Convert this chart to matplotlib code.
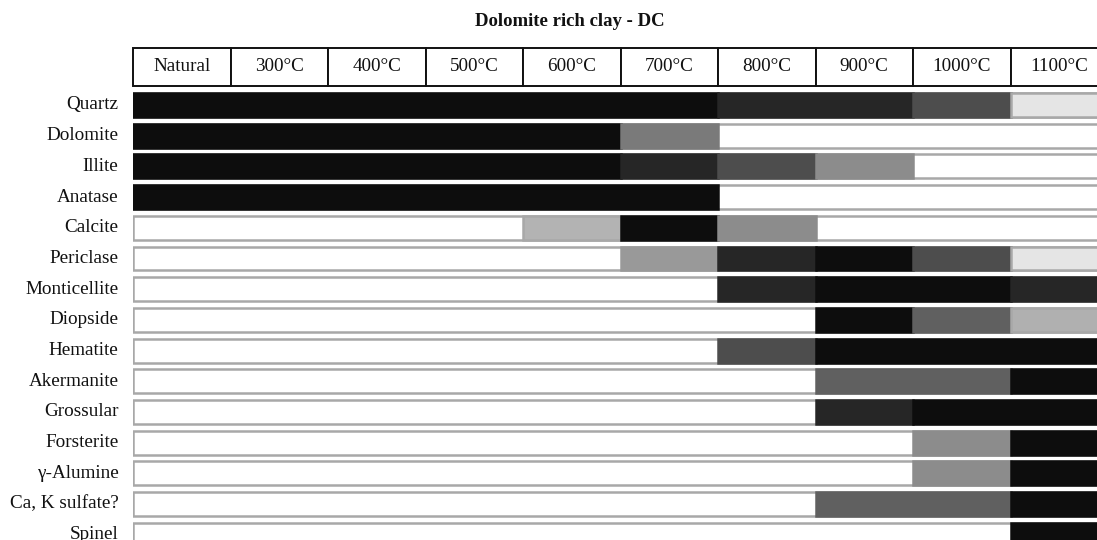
#!/usr/bin/env python3
# coding: utf-8

import matplotlib.pyplot as plt
from matplotlib.patches import Rectangle

plt.rcParams['font.family'] = ['Liberation Serif', 'DejaVu Serif']

title = 'Dolomite rich clay - DC'

columns = ['Natural', '300°C', '400°C', '500°C', '600°C',
           '700°C', '800°C', '900°C', '1000°C', '1100°C']

minerals = ['Quartz', 'Dolomite', 'Illite', 'Anatase', 'Calcite',
            'Periclase', 'Monticellite', 'Diopside', 'Hematite',
            'Akermanite', 'Grossular', 'Forsterite', 'γ-Alumine',
            'Ca, K sulfate?', 'Spinel']

# grey level (0 = black, 255 = white) for each mineral at each temperature
quartz       = [13, 13, 13, 13, 13, 13, 38, 38, 77, 229]
dolomite     = [13, 13, 13, 13, 13, 122, 255, 255, 255, 255]
illite       = [13, 13, 13, 13, 13, 38, 77, 140, 255, 255]
anatase      = [13, 13, 13, 13, 13, 13, 255, 255, 255, 255]
calcite      = [255, 255, 255, 255, 179, 13, 140, 255, 255, 255]
periclase    = [255, 255, 255, 255, 255, 153, 38, 13, 77, 229]
monticellite = [255, 255, 255, 255, 255, 255, 38, 13, 13, 38]
diopside     = [255, 255, 255, 255, 255, 255, 255, 13, 96, 176]
hematite     = [255, 255, 255, 255, 255, 255, 77, 13, 13, 13]
akermanite   = [255, 255, 255, 255, 255, 255, 255, 96, 96, 13]
grossular    = [255, 255, 255, 255, 255, 255, 255, 38, 13, 13]
forsterite   = [255, 255, 255, 255, 255, 255, 255, 255, 140, 13]
alumine      = [255, 255, 255, 255, 255, 255, 255, 255, 140, 13]
sulfate      = [255, 255, 255, 255, 255, 255, 255, 96, 96, 13]
spinel       = [255, 255, 255, 255, 255, 255, 255, 255, 255, 13]

shades = [quartz, dolomite, illite, anatase, calcite, periclase,
          monticellite, diopside, hematite, akermanite, grossular,
          forsterite, alumine, sulfate, spinel]

EDGE = 168
BAR_H = 0.78


def grey(v):
    return '#{0:02x}{0:02x}{0:02x}'.format(v)


def runs(row):
    # merge neighbouring cells that share the same shade
    out = []
    start = 0
    for i in range(1, len(row) + 1):
        if i == len(row) or row[i] != row[start]:
            out.append((start, i - start, row[start]))
            start = i
    return out


def main():
    fig = plt.figure(figsize=(10.97, 5.40), dpi=100)
    # axes runs a little past the right edge so the last column is cut off
    ax = fig.add_axes([133 / 1097, 0, 975 / 1097, 1])
    ax.set_xlim(0, len(columns))
    ax.set_ylim(14.17, -3.42)
    ax.axis('off')

    # header row
    h_top, h_bot = -1.857, -0.62
    for i, name in enumerate(columns):
        ax.add_patch(Rectangle((i, h_top), 1, h_bot - h_top, facecolor='white',
                               edgecolor='#111111', linewidth=1.4,
                               clip_on=False))
        ax.text(i + 0.5, (h_top + h_bot) / 2, name, ha='center', va='center',
                fontsize=13.8, color='#111111')

    for j, (name, row) in enumerate(zip(minerals, shades)):
        ax.barh(j, len(columns), left=0, height=BAR_H, color='white',
                edgecolor=grey(EDGE), linewidth=1.8)
        for start, length, v in runs(row):
            if v == 255:
                continue
            ax.barh(j, length, left=start, height=BAR_H, color=grey(v),
                    edgecolor=grey(min(v, EDGE)), linewidth=1.8)
        ax.text(-0.15, j, name, ha='right', va='center', fontsize=13.8,
                color='#111111')

    fig.text(570 / 1097, 1 - 22 / 540, title, ha='center', va='center',
             fontsize=13.5, fontweight='bold', color='#111111')

    fig.savefig('out.png', dpi=100)


if __name__ == '__main__':
    main()
